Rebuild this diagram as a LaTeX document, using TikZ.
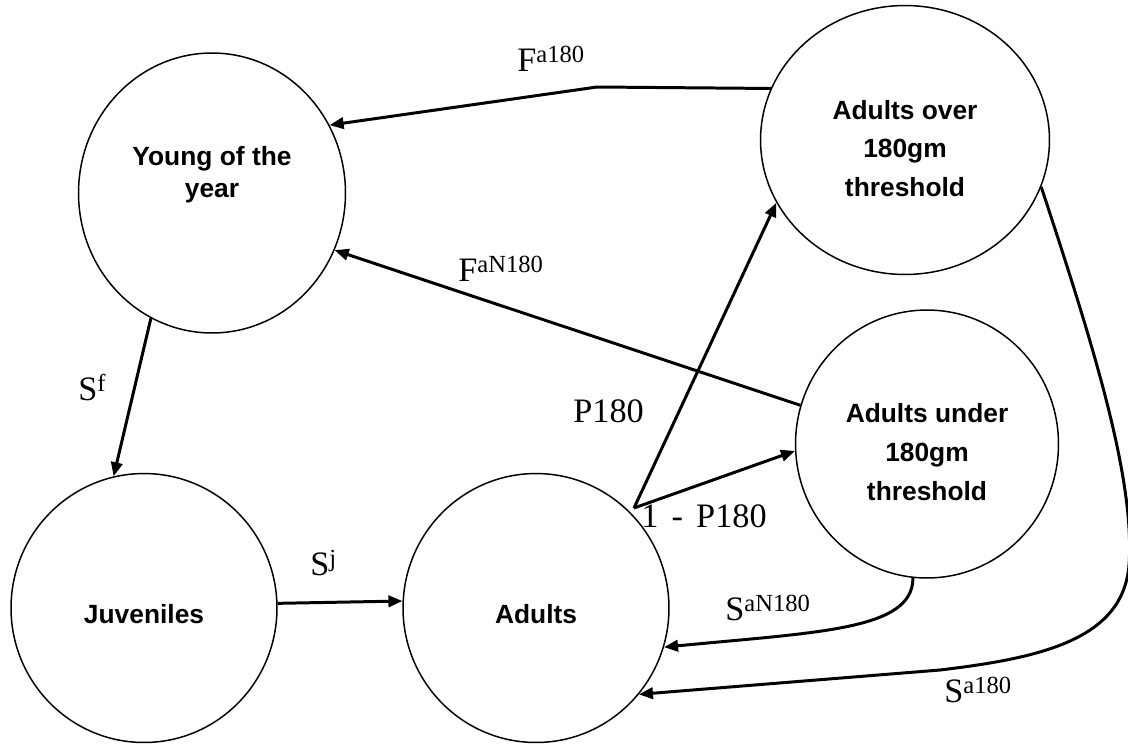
\documentclass[tikz,border=0pt]{standalone}
\usepackage{fontspec}
\setmainfont{Liberation Serif}
\setsansfont{Liberation Sans}
\usetikzlibrary{shapes.geometric, arrows.meta}
\newcommand{\SUP}[1]{\raisebox{5pt}{\fontsize{14}{14}\selectfont #1}}

\begin{document}
\begin{tikzpicture}[x=0.02cm, y=-0.02cm,
  stage/.style={draw, ellipse, line width=0.85pt, inner sep=0pt, align=center,
    font=\sffamily\bfseries\fontsize{15}{22}\selectfont},
  flow/.style={line width=1.7pt, -{Triangle[length=8pt, width=6.5pt]}},
  ratelabel/.style={anchor=base west, inner sep=0pt, font=\fontsize{19.5}{22}\selectfont}]

  \useasboundingbox (0, 0) rectangle (1128, 744);

  % life stages
  \node[stage, minimum width=5.34cm, minimum height=5.6cm, text depth=24pt,
    font=\sffamily\bfseries\fontsize{15}{18}\selectfont]
    (young) at (212, 193) {Young of the\\year};
  \node[stage, minimum width=5.78cm, minimum height=5.38cm, text height=64.5pt]
    (over) at (905, 140) {Adults over\\180gm\\threshold};
  \node[stage, minimum width=5.26cm, minimum height=5.36cm, text height=64pt]
    (under) at (927, 444) {Adults under\\180gm\\threshold};
  \node[stage, minimum width=5.32cm, minimum height=5.38cm, text height=17.5pt]
    (juv) at (144, 608) {Juveniles};
  \node[stage, minimum width=5.32cm, minimum height=5.38cm, text height=17.5pt]
    (adults) at (536, 608) {Adults};

  \coordinate (fbend) at (597, 87);
  \coordinate (split) at (634, 508);
  \coordinate (sa-turn) at (1129, 565);
  \coordinate (sa-low) at (940, 670);

  % transitions
  \draw[flow] (over.159) -- (fbend) -- (young.30);
  \draw[flow] (under.163) -- (young.-25);
  \draw[flow] (young.-116) -- (juv.103);
  \draw[flow] (juv.2.6) -- (adults.177.4);
  \draw[flow] (split) -- (over.206);
  \draw[flow] (split) -- (under.183.5);
  \draw[flow] (under.-96) .. controls (913, 630) and (820, 632) .. (adults.-17);
  \draw[flow] (over.-19) .. controls (1095, 350) and (1135, 480) .. (sa-turn)
    .. controls (1123, 640) and (1040, 658) .. (sa-low) -- (adults.-40);

  % rates
  \node[ratelabel] (fa) at (517, 71) {F\SUP{a180}};
  \node[ratelabel] (fan) at (458, 281) {F\SUP{aN180}};
  \node[ratelabel] (p) at (573, 422) {P180};
  \node[ratelabel] (notp) at (641, 527) {1\hspace{7.5pt}-\hspace{7.5pt}P180};
  \node[ratelabel] (sf) at (78, 400) {S\SUP{f}};
  \node[ratelabel] (sj) at (310, 575) {S\SUP{j}};
  \node[ratelabel] (san) at (725, 620) {S\SUP{aN180}};
  \node[ratelabel] (sa) at (944, 702) {S\SUP{a180}};

\end{tikzpicture}
\end{document}
